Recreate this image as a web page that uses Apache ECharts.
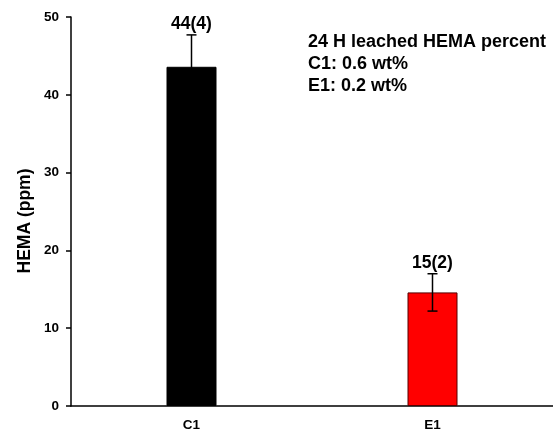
<!DOCTYPE html>
<html><head><meta charset="utf-8">
<script src="https://cdn.jsdelivr.net/npm/echarts@6/dist/echarts.min.js"></script>
<style>html,body{margin:0;padding:0;background:#fff}#c{width:553px;height:434px}</style>
</head><body><div id="c"></div>
<script>
const categories = ['C1', 'E1'];
const values = [43.6, 14.6];
const errors = [4.1, 2.4];
const barLabels = ['44(4)', '15(2)'];
const barColors = ['#000000', '#ff0000'];
const yTicks = [0, 10, 20, 30, 40, 50];
const yAxisTitle = 'HEMA (ppm)';
const noteLines = ['24 H leached HEMA percent', 'C1: 0.6 wt%', 'E1: 0.2 wt%'];

const chart = echarts.init(document.getElementById('c'));
const font = 'Arial, "Liberation Sans", sans-serif';
chart.setOption({
  animation: false,
  backgroundColor: '#fff',
  grid: { left: 71, right: 0, top: 17, bottom: 28 },
  xAxis: {
    type: 'category', data: categories, boundaryGap: true,
    axisLine: { lineStyle: { color: '#000', width: 1.5 } },
    axisTick: { alignWithLabel: true, length: 5, lineStyle: { color: '#000', width: 1.5 } },
    axisLabel: { color: '#000', fontWeight: 'bold', fontSize: 13.5, fontFamily: font, margin: 12 }
  },
  yAxis: {
    type: 'value', min: 0, max: 50, interval: 10,
    axisLine: { show: true, lineStyle: { color: '#000', width: 1.5 } },
    axisTick: { show: true, length: 5, lineStyle: { color: '#000', width: 1.5 } },
    axisLabel: { color: '#000', fontWeight: 'bold', fontSize: 13.5, fontFamily: font, margin: 12,
      formatter: v => yTicks.includes(v) ? String(v) : '' },
    splitLine: { show: false }
  },
  graphic: noteLines.map((t, i) => ({
    type: 'text', x: 308, y: 42.5 + i * 21.7,
    style: { text: t, fill: '#000', font: 'bold 18px ' + font, verticalAlign: 'middle' }
  })).concat([{
    type: 'text', x: 25, y: 221, rotation: Math.PI / 2,
    style: { text: yAxisTitle, fill: '#000', font: 'bold 17.5px ' + font, align: 'center', verticalAlign: 'middle' }
  }]),
  series: [
    {
      type: 'bar', barWidth: 50,
      data: values.map((v, i) => ({ value: v, itemStyle: { color: barColors[i], borderColor: i === 0 ? '#000' : '#500', borderWidth: 1 } }))
    },
    {
      type: 'custom', z: 10,
      data: values.map((v, i) => [i, v, errors[i]]),
      renderItem: (params, api) => {
        const x = api.value(0), v = api.value(1), e = api.value(2);
        const top = api.coord([x, v + e]);
        const bot = api.coord([x, v - e]);
        const cx = top[0];
        const hw = 5;
        return {
          type: 'group',
          children: [
            { type: 'line', shape: { x1: cx, y1: top[1], x2: cx, y2: bot[1] }, style: { stroke: '#000', lineWidth: 1.5 } },
            { type: 'line', shape: { x1: cx - hw, y1: top[1], x2: cx + hw, y2: top[1] }, style: { stroke: '#000', lineWidth: 1.5 } },
            { type: 'line', shape: { x1: cx - hw, y1: bot[1], x2: cx + hw, y2: bot[1] }, style: { stroke: '#000', lineWidth: 1.5 } },
            { type: 'text', x: cx, y: top[1] - 10.5, style: { text: barLabels[params.dataIndex], fill: '#000', font: 'bold 17.5px ' + font, align: 'center', verticalAlign: 'middle' } }
          ]
        };
      }
    }
  ]
});
</script></body></html>
